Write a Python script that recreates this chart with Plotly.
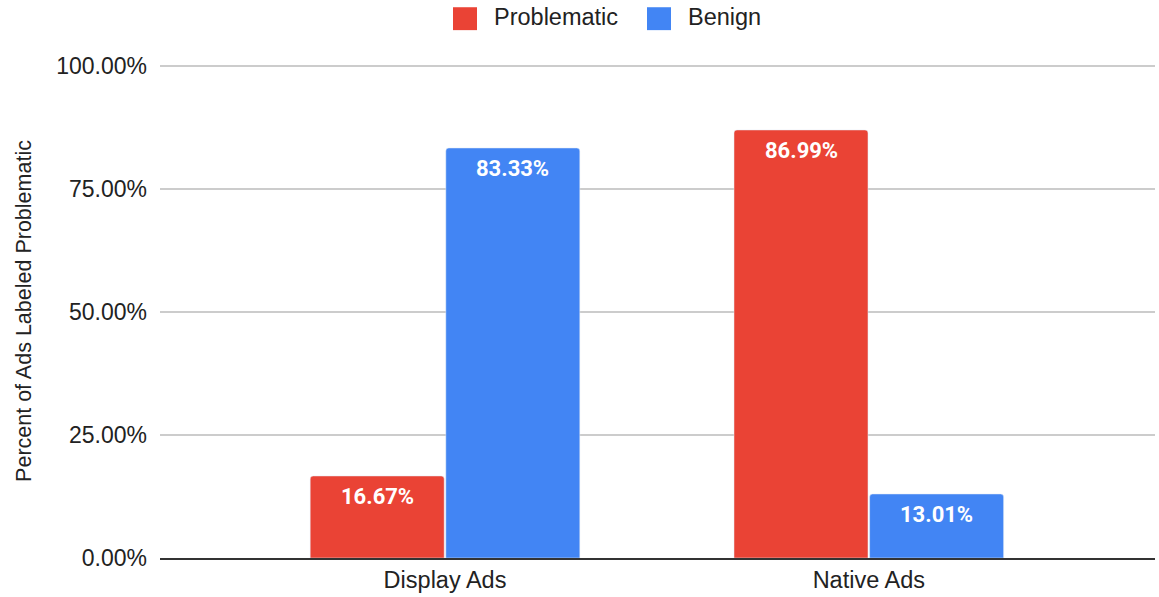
import plotly.graph_objects as go

# Chart data
categories = ["Display Ads", "Native Ads"]
series_names = ["Problematic", "Benign"]
problematic = [0.1667, 0.8699]
benign = [0.8333, 0.1301]
y_ticks = [0, 0.25, 0.5, 0.75, 1.0]

colors = ["#EA4335", "#4285F4"]
W, H = 1159, 597
ML, MR, MT, MB = 160, 4, 64, 37
PW, PH = W - ML - MR, H - MT - MB
TEXT = "#222222"
SANS = "Liberation Sans, Arial"
X_RANGE = [-0.6725, 1.6753]
Y_RANGE = [0, 1.004]
BARGAP = 0.36

fig = go.Figure()
for name, vals, col in zip(series_names, [problematic, benign], colors):
    fig.add_trace(go.Bar(
        x=categories, y=vals, name=name, marker_color=col,
        showlegend=False, hoverinfo="x+y+name",
    ))

# Value labels sitting just inside the top of each bar
px_per_unit = PW / (X_RANGE[1] - X_RANGE[0])
slot = (1 - BARGAP) / len(series_names)
annotations = []
for i, vals in enumerate([problematic, benign]):
    shift = (i - (len(series_names) - 1) / 2) * slot * px_per_unit
    for cat, v in zip(categories, vals):
        annotations.append(dict(
            x=cat, y=v, xref="x", yref="y", text=f"{v:.2%}",
            showarrow=False, xanchor="center", yanchor="middle",
            xshift=shift, yshift=-21,
            font=dict(family="Roboto", size=22, color="white", weight="bold"),
        ))

# Legend drawn as swatches with labels above the plot
def px_x(p):
    return (p - ML) / PW

def px_y(p):
    return (H - MB - p) / PH

legend_items = [(453, 493), (647, 687)]
shapes = []
for (sx, tx), name, col in zip(legend_items, series_names, colors):
    shapes.append(dict(type="rect", xref="paper", yref="paper",
                       x0=px_x(sx), x1=px_x(sx + 24), y0=px_y(30), y1=px_y(7),
                       fillcolor=col, line=dict(width=0)))
    annotations.append(dict(text=name, xref="paper", yref="paper",
                            x=px_x(tx), y=px_y(17), xanchor="left", yanchor="middle",
                            showarrow=False, borderpad=0,
                            font=dict(family=SANS, size=23.5, color=TEXT)))

fig.update_layout(
    width=W, height=H,
    margin=dict(l=ML, r=MR, t=MT, b=MB),
    paper_bgcolor="white", plot_bgcolor="white",
    barmode="group", bargap=BARGAP, bargroupgap=0.012, barcornerradius=3,
    font=dict(family=SANS, size=23, color=TEXT),
    shapes=shapes, annotations=annotations,
)
fig.update_xaxes(range=X_RANGE, showgrid=False, showline=True,
                 linecolor="#333333", linewidth=1.5, ticks="",
                 tickfont=dict(size=23.5, color=TEXT))
fig.update_yaxes(range=Y_RANGE, tickvals=y_ticks, tickformat=".2%",
                 showgrid=True, gridcolor="#CCCCCC", gridwidth=1.5,
                 zeroline=False, showline=False, ticks="",
                 ticklabelstandoff=12,
                 title=dict(text="Percent of Ads Labeled Problematic",
                            font=dict(size=21.5, color=TEXT), standoff=18),
                 tickfont=dict(size=23, color=TEXT))

fig.write_html("out.html")
